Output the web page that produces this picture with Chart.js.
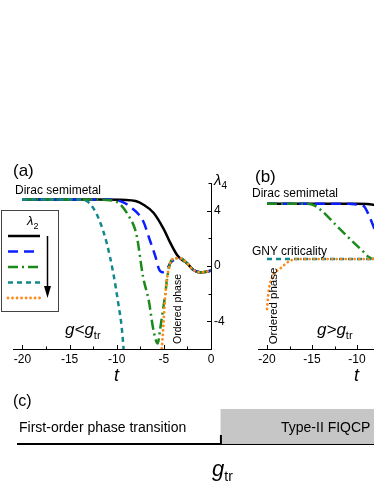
<!DOCTYPE html>
<html>
<head>
<meta charset="utf-8">
<script src="https://cdn.jsdelivr.net/npm/chart.js@4.4.0/dist/chart.umd.min.js"></script>
<style>
  html, body { margin: 0; padding: 0; background: #fff; }
  body { width: 374px; height: 484px; overflow: hidden; position: relative; font-family: "Liberation Sans", Arial, sans-serif; color: #000; }
  canvas { position: absolute; }
  .lbl { position: absolute; line-height: 1; white-space: nowrap; }
  .it { font-style: italic; }
  .rot { transform: translate(-50%, -50%) rotate(-90deg); }
</style>
</head>
<body>
<canvas id="chartA" width="250" height="240" style="left:0;top:150px"></canvas>
<canvas id="chartB" width="240" height="240" style="left:245px;top:150px"></canvas>
<canvas id="chartC" width="374" height="94" style="left:0;top:390px"></canvas>

<div class="lbl" style="left:13px;top:162px;font-size:17px">(a)</div>
<div class="lbl" style="left:15px;top:184px;font-size:12px">Dirac semimetal</div>
<div class="lbl it" style="left:214px;top:172px;font-size:15px">λ<span style="font-size:10px;font-style:normal;position:relative;top:4px">4</span></div>
<div class="lbl it" style="left:27px;top:214px;font-size:13px">λ<span style="font-size:9px;font-style:normal;position:relative;top:4px">2</span></div>
<div class="lbl it" style="left:65px;top:321px;font-size:17px">g&lt;g<span style="font-size:11px;font-style:normal;position:relative;top:4px">tr</span></div>
<div class="lbl rot" style="left:177px;top:309px;font-size:10.5px">Ordered phase</div>
<div class="lbl it" style="left:114px;top:366px;font-size:18px">t</div>

<div class="lbl" style="left:255px;top:168px;font-size:17px">(b)</div>
<div class="lbl" style="left:252px;top:187px;font-size:12px">Dirac semimetal</div>
<div class="lbl" style="left:252px;top:245px;font-size:12px">GNY criticality</div>
<div class="lbl rot" style="left:274px;top:306px;font-size:11.5px">Ordered phase</div>
<div class="lbl it" style="left:317px;top:321px;font-size:17px">g&gt;g<span style="font-size:11px;font-style:normal;position:relative;top:4px">tr</span></div>
<div class="lbl it" style="left:354px;top:366px;font-size:18px">t</div>

<div class="lbl" style="left:13px;top:393px;font-size:16px">(c)</div>
<div class="lbl" style="left:19px;top:420px;font-size:14px">First-order phase transition</div>
<div class="lbl" style="left:281px;top:420px;font-size:14px">Type-II FIQCP</div>
<div class="lbl it" style="left:212px;top:458px;font-size:22px">g<span style="font-size:14px;font-style:normal;position:relative;top:5px">tr</span></div>

<script>
// panel (a): g < g_tr
const aBlackT = [-20, -12, -9, -8, -7.2, -6.1, -5, -4.3, -3.6, -3.1, -2.55, -1.85, -1.15, -0.45, 0];
const aBlackL = [4.8, 4.8, 4.78, 4.7, 4.45, 3.85, 2.65, 1.65, 0.8, 0.45, 0.2, -0.29, -0.46, -0.41, -0.33];
const aBlueT = [-20, -11, -10, -9.3, -8.6, -7.2, -6.5, -5.9, -5.5, -5.15, -4.85, -4.6, -4.33, -3.8, -3.27, -2.55, -1.85, -1.15, -0.45, 0];
const aBlueL = [4.8, 4.8, 4.75, 4.6, 4.3, 3.25, 1.9, 0.7, -0.25, -0.45, -0.4, -0.15, 0.2, 0.5, 0.56, 0.2, -0.29, -0.46, -0.41, -0.33];
const aGreenT = [-20, -12, -10.7, -9.8, -8.8, -7.9, -7.2, -6.6, -6.1, -5.65, -5.4, -5.1, -4.86, -4.68, -4.33, -3.8, -3.27, -2.55, -1.85, -1.15, -0.45, 0];
const aGreenL = [4.8, 4.8, 4.75, 4.55, 3.7, 2.25, -0.8, -2.5, -4.65, -5.6, -4.6, -3.2, -2.1, -1.02, 0.2, 0.56, 0.56, 0.2, -0.29, -0.46, -0.41, -0.33];
const aTealT = [-20, -14, -13.2, -12.5, -11.8, -11.06, -10.36, -9.83, -9.47, -9.2];
const aTealL = [4.8, 4.8, 4.7, 4.2, 3.24, 1.66, -0.53, -2.72, -4.43, -6.6];
const aOrangeT = [-5.3, -5.21, -5.04, -4.86, -4.68, -4.33, -3.8, -3.27, -2.55, -1.85, -1.15, -0.45, 0];
const aOrangeL = [-6.6, -5.89, -4.18, -2.24, -1.02, 0.2, 0.56, 0.56, 0.2, -0.29, -0.46, -0.41, -0.33];

// panel (b): g > g_tr
const bBlackT = [-20, -10, -8, -6, -4, -2, 0];
const bBlackL = [4.5, 4.5, 4.4, 3.7, 2.2, 0.9, 0.5];
const bBlueT = [-20, -11, -10, -9.26, -8.7, -8, -7, -6, -5, 0];
const bBlueL = [4.5, 4.5, 4.45, 4.33, 3.7, 2.6, 1.3, 0.6, 0.5, 0.5];
const bGreenT = [-20, -16, -15, -14.1, -12.2, -10.7, -9.3, -8.7, -8, 0];
const bGreenL = [4.5, 4.5, 4.45, 4.09, 2.87, 1.9, 1.04, 0.65, 0.5, 0.5];
const bTealT = [-20, 0];
const bTealL = [0.5, 0.5];
const bOrangeT = [-20, -19.8, -19.4, -18.5, -17.4, -16.3, 0];
const bOrangeL = [-3.1, -1.75, -0.78, -0.17, 0.39, 0.5, 0.5];

// axes
const tLabels = [-20, -15, -10, -5, 0];
const tMarks = [-20, -17.5, -15, -12.5, -10, -7.5, -5, -2.5, 0];
const lamLabels = [-4, 0, 4];
const lamMarks = [-6, -4, -2, 0, 2, 4, 6];

// panel (c)
const gBounds = [0, 0.57, 1];   // start, g_tr, end

Chart.defaults.font.family = "'Liberation Sans', Arial, sans-serif";
Chart.defaults.font.size = 12;
Chart.defaults.color = "#000";

const styles = [
  { color: "#000000", dash: [], order: 4 },
  { color: "#0a1eff", dash: [10, 6], order: 3 },
  { color: "#1b8a1b", dash: [10, 4, 2, 4], order: 2 },
  { color: "#12898c", dash: [5, 4], order: 1 },
  { color: "#ff8a1c", dash: [0.01, 4.5], order: 0, cap: "round" }
];

function pts(ts, ls) {
  return ts.map((t, i) => ({ x: t, y: ls[i] }));
}

function makeSets(series) {
  return series.map((s, i) => ({
    data: pts(s[0], s[1]),
    borderColor: styles[i].color,
    borderDash: styles[i].dash,
    borderCapStyle: styles[i].cap || "butt",
    borderWidth: i === 4 ? 2.8 : 2.5,
    order: styles[i].order,
    pointRadius: 0,
    fill: false,
    cubicInterpolationMode: "monotone"
  }));
}

// small inward tick marks like the original
const innerTicks = {
  id: "innerTicks",
  afterDraw(chart) {
    const { ctx, chartArea, scales: { x, y } } = chart;
    ctx.save();
    ctx.strokeStyle = "#000";
    ctx.lineWidth = 1;
    ctx.beginPath();
    tMarks.forEach(v => {
      const px = Math.round(x.getPixelForValue(v)) + 0.5;
      const len = v % 5 === 0 ? 4 : 2.5;
      ctx.moveTo(px, chartArea.bottom);
      ctx.lineTo(px, chartArea.bottom - len);
    });
    lamMarks.forEach(v => {
      const py = Math.round(y.getPixelForValue(v)) + 0.5;
      const len = v % 4 === 0 ? 4 : 2.5;
      ctx.moveTo(chartArea.right, py);
      ctx.lineTo(chartArea.right - len, py);
    });
    ctx.stroke();
    ctx.restore();
  }
};

// boxed legend with arrow (panel a)
const lambdaBox = {
  id: "lambdaBox",
  afterDraw(chart) {
    const ctx = chart.ctx;
    ctx.save();
    ctx.fillStyle = "#fff";
    ctx.fillRect(1.5, 60.5, 57, 101);
    ctx.strokeStyle = "#444";
    ctx.lineWidth = 1;
    ctx.strokeRect(1.5, 60.5, 57, 101);
    chart.data.datasets.forEach((ds, i) => {
      const yy = 86 + i * 15.5;
      ctx.beginPath();
      ctx.strokeStyle = ds.borderColor;
      ctx.lineWidth = ds.borderWidth;
      ctx.setLineDash(ds.borderDash);
      ctx.lineCap = ds.borderCapStyle;
      ctx.moveTo(8, yy);
      ctx.lineTo(40, yy);
      ctx.stroke();
    });
    ctx.setLineDash([]);
    ctx.lineCap = "butt";
    ctx.strokeStyle = "#000";
    ctx.fillStyle = "#000";
    ctx.lineWidth = 1.5;
    ctx.beginPath();
    ctx.moveTo(47.5, 86);
    ctx.lineTo(47.5, 138);
    ctx.stroke();
    ctx.beginPath();
    ctx.moveTo(44, 136);
    ctx.lineTo(51, 136);
    ctx.lineTo(47.5, 148);
    ctx.closePath();
    ctx.fill();
    ctx.restore();
  }
};

function lineOptions(yWidth, xLeft) {
  return {
    responsive: false,
    animation: false,
    devicePixelRatio: 1,
    layout: { padding: { left: xLeft, top: 33, right: 0, bottom: 0 } },
    plugins: { legend: { display: false }, tooltip: { enabled: false } },
    scales: {
      x: {
        type: "linear",
        min: -21,
        max: 0,
        grid: { display: false, drawTicks: false },
        border: { display: true, color: "#000", width: 1 },
        ticks: { padding: 3, maxRotation: 0, font: { size: 12 } },
        afterBuildTicks: s => { s.ticks = tLabels.map(v => ({ value: v })); },
        afterFit: s => { s.height = 41; }
      },
      y: {
        type: "linear",
        position: "right",
        min: -6,
        max: 6,
        grid: { display: false, drawTicks: false },
        border: { display: true, color: "#000", width: 1 },
        ticks: { padding: 3, font: { size: 12 } },
        afterBuildTicks: s => { s.ticks = lamLabels.map(v => ({ value: v })); },
        afterFit: s => { s.width = yWidth; }
      }
    }
  };
}

new Chart(document.getElementById("chartA"), {
  type: "line",
  data: {
    datasets: makeSets([
      [aBlackT, aBlackL], [aBlueT, aBlueL], [aGreenT, aGreenL], [aTealT, aTealL], [aOrangeT, aOrangeL]
    ])
  },
  options: lineOptions(39, 13),
  plugins: [innerTicks, lambdaBox]
});

new Chart(document.getElementById("chartB"), {
  type: "line",
  data: {
    datasets: makeSets([
      [bBlackT, bBlackL], [bBlueT, bBlueL], [bGreenT, bGreenL], [bTealT, bTealL], [bOrangeT, bOrangeL]
    ])
  },
  options: lineOptions(38, 13),
  plugins: [innerTicks]
});

// phase diagram strip (c)
const gtrTick = {
  id: "gtrTick",
  afterDraw(chart) {
    const { ctx, chartArea, scales: { x } } = chart;
    const px = x.getPixelForValue(gBounds[1]);
    ctx.save();
    ctx.strokeStyle = "#000";
    ctx.lineWidth = 2;
    ctx.beginPath();
    ctx.moveTo(px, chartArea.bottom);
    ctx.lineTo(px, chartArea.bottom - 9);
    ctx.stroke();
    ctx.restore();
  }
};

new Chart(document.getElementById("chartC"), {
  type: "bar",
  data: {
    labels: [""],
    datasets: [{
      data: [[gBounds[1], gBounds[2]]],
      backgroundColor: "#c6c6c6",
      borderWidth: 0,
      barPercentage: 1,
      categoryPercentage: 1
    }]
  },
  options: {
    indexAxis: "y",
    responsive: false,
    animation: false,
    devicePixelRatio: 1,
    layout: { padding: { left: 18, top: 19, right: 0, bottom: 0 } },
    plugins: { legend: { display: false }, tooltip: { enabled: false } },
    scales: {
      x: {
        type: "linear",
        min: gBounds[0],
        max: gBounds[2],
        grid: { display: false, drawTicks: false },
        border: { display: true, color: "#000", width: 2 },
        ticks: { display: false },
        afterFit: s => { s.height = 40; }
      },
      y: { display: false }
    }
  },
  plugins: [gtrTick]
});
</script>
</body>
</html>
